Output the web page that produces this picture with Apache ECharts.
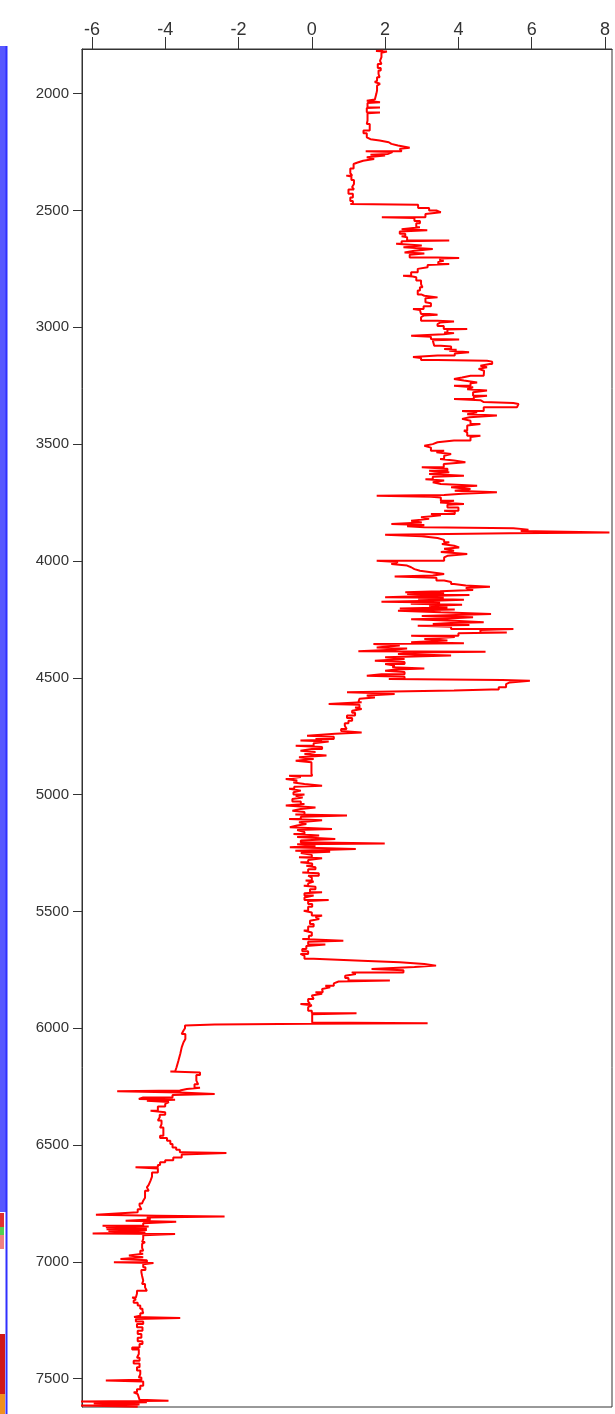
<!DOCTYPE html>
<html><head><meta charset="utf-8">
<script src="https://cdn.jsdelivr.net/npm/echarts@6/dist/echarts.min.js"></script>
<style>html,body{margin:0;padding:0;background:#fff;}#chart{width:615px;height:1414px;}</style>
</head><body><div id="chart"></div>
<script>
// tick labels
const valueTicks = [-6, -4, -2, 0, 2, 4, 6, 8];
const depthTicks = [2000, 2500, 3000, 3500, 4000, 4500, 5000, 5500, 6000, 6500, 7000, 7500];
// log readings: [depth, value]
const zoneA = [[1816,1.95],[1818,1.75],[1820,2.05],[1825,1.9],[1844,1.86],[1860,1.9],[1873,1.8],[1890,1.88],[1901,1.82],[1916,1.85],[1930,1.78],[1944,1.8],[1950,1.72],[1958,1.86],[1966,1.78],[1987,1.76],[2001,1.72],[2025,1.74],[2030,1.5],[2037,1.86],[2040,1.52],[2058,1.5],[2059,1.86],[2062,1.5],[2080,1.52],[2081,1.86],[2084,1.52],[2115,1.5],[2130,1.58],[2158,1.41],[2170,1.5],[2187,1.48],[2195,1.6],[2201,1.85],[2208,2.1],[2215,2.17],[2222,2.35],[2227,2.53],[2232,2.67],[2236,2.4],[2240,2.45],[2247,1.47],[2250,2.2],[2258,2.08],[2262,1.6],[2265,2.0],[2272,1.5],[2280,1.7],[2287,1.4],[2295,1.25],[2301,1.14],[2320,1.05],[2340,1.1],[2351,0.94],[2355,1.08],[2370,1.15],[2387,1.1],[2400,1.15],[2410,1.0],[2429,1.12],[2445,1.05],[2460,1.12],[2472,1.05],[2476,2.9],[2479,2.9],[2490,3.2],[2500,3.4],[2508,3.52],[2515,3.1],[2529,1.91],[2532,2.8],[2545,2.95],[2555,2.85],[2572,2.95],[2580,2.45],[2585,3.15],[2590,2.4],[2600,2.55],[2610,2.45],[2615,2.6],[2629,3.75],[2632,2.45],[2643,2.3],[2650,3.0],[2658,2.5],[2665,3.3],[2672,2.8]];
const zoneB = [[2680,2.53],[2684,3.07],[2690,2.67],[2701,3.43],[2703,4.02],[2706,3.5],[2715,3.6],[2720,3.45],[2729,3.75],[2733,3.16],[2743,3.12],[2750,2.89],[2765,2.71],[2779,2.49],[2783,2.75],[2786,2.85],[2800,2.98],[2815,3.02],[2829,2.95],[2843,2.89],[2860,3.0],[2865,3.07],[2872,3.43],[2876,3.1],[2893,3.15],[2897,3.25],[2910,3.05],[2922,2.76],[2926,2.95],[2929,2.98],[2943,3.2],[2946,3.43],[2950,3.05],[2957,2.98],[2972,3.43],[2975,3.88],[2980,3.5],[2986,3.43],[2995,3.6],[3007,4.24],[3010,3.7],[3022,3.61],[3025,3.88],[3030,3.6],[3036,2.71],[3040,3.25],[3050,3.25],[3052,4.02],[3056,3.3],[3064,3.34],[3079,3.52],[3082,3.8],[3093,3.61],[3096,3.95],[3100,3.75],[3107,4.29],[3112,3.9],[3121,3.43],[3127,2.76],[3131,2.98],[3140,3.43],[3143,4.78],[3147,4.92],[3157,4.85],[3165,4.6],[3171,4.78],[3178,4.55],[3186,4.7],[3193,4.69],[3207,4.33],[3215,4.1],[3221,3.88],[3228,4.15],[3236,4.51],[3240,4.33],[3250,3.88],[3257,4.4],[3265,4.24],[3271,4.78],[3278,4.4],[3293,4.78],[3298,4.42],[3307,3.88],[3312,4.6],[3320,4.69],[3324,5.5],[3328,5.64],[3335,5.6],[3342,4.69],[3350,4.69],[3358,4.1],[3364,4.51],[3372,4.24],[3378,5.05],[3385,4.3],[3392,4.1],[3400,4.33],[3414,4.6],[3420,4.24],[3442,4.15],[3450,4.24],[3464,4.6],[3470,4.33],[3485,3.88],[3492,3.43],[3500,3.3],[3507,3.07],[3515,3.25],[3528,3.61],[3535,3.4],[3542,3.8],[3550,3.61],[3564,3.5],[3570,3.88],[3578,4.19],[3585,3.6],[3599,3.0],[3605,3.7],[3614,3.2]];
const zoneC = [[3620,3.75],[3628,3.2],[3635,4.15],[3640,3.3],[3650,3.1],[3656,3.61],[3663,3.3],[3671,3.52],[3678,4.51],[3685,3.8],[3692,4.33],[3700,3.9],[3706,5.05],[3712,4.1],[3718,3.61],[3721,1.77],[3725,3.25],[3728,3.52],[3742,3.88],[3750,3.5],[3756,4.15],[3760,3.7],[3771,4.0],[3785,3.61],[3790,3.9],[3799,3.25],[3805,3.52],[3813,2.98],[3820,3.2],[3828,2.71],[3835,3.0],[3842,2.17],[3846,3.07],[3852,2.6],[3856,3.07],[3860,5.5],[3866,5.91],[3872,5.7],[3878,8.12],[3882,5.4],[3888,2.0],[3894,3.0],[3902,3.43],[3910,3.61],[3920,3.75],[3928,3.55],[3935,3.88],[3942,4.02],[3948,3.61],[3956,3.88],[3962,3.52],[3970,4.24],[3978,3.7],[3985,3.61],[3999,1.77],[4005,2.35],[4013,2.17],[4020,2.6],[4027,2.71],[4035,2.8],[4042,2.95],[4048,3.25],[4056,3.61],[4062,3.3],[4067,2.26],[4072,3.4],[4084,3.61],[4090,3.8],[4099,3.88],[4105,4.2],[4110,4.86],[4116,4.2],[4124,4.4],[4130,3.5],[4134,2.55],[4138,3.61],[4142,2.6],[4146,4.3],[4150,3.1],[4155,2.0],[4158,3.6],[4162,2.9],[4166,4.15],[4170,3.3],[4175,1.9],[4178,3.5],[4183,2.7],[4188,4.1],[4192,3.2],[4199,3.7],[4204,2.4],[4208,3.9],[4213,2.35],[4220,3.52],[4227,4.89],[4232,3.7],[4236,3.0],[4241,4.4],[4246,3.7],[4250,2.71],[4256,3.9],[4262,4.69],[4266,3.8],[4270,3.3],[4274,4.3],[4277,2.89],[4282,3.8],[4291,5.5],[4296,4.6],[4306,5.32],[4310,4.0],[4320,2.71],[4326,3.9],[4334,3.07],[4340,3.7],[4348,2.71],[4352,4.15],[4356,1.68],[4362,2.4],[4370,1.77],[4375,2.6],[4380,2.2],[4387,1.27],[4389,4.74],[4392,2.8],[4398,2.35],[4405,3.8],[4412,2.0],[4420,2.53]];
const zoneD = [[4427,1.72],[4432,2.53],[4441,2.0],[4448,2.26],[4455,2.2],[4460,3.07],[4465,2.3],[4470,2.0],[4475,2.53],[4485,1.9],[4491,1.5],[4496,2.53],[4505,2.1],[4510,5.2],[4513,5.95],[4520,5.4],[4527,5.3],[4541,5.1],[4550,4.9],[4555,3.88],[4562,0.96],[4566,1.9],[4569,2.26],[4576,1.5],[4584,1.72],[4590,1.3],[4598,1.27],[4605,1.36],[4612,0.46],[4616,1.3],[4627,1.18],[4634,1.36],[4641,1.1],[4650,1.18],[4662,0.96],[4672,1.1],[4684,1.0],[4695,0.9],[4705,0.85],[4712,0.95],[4719,0.8],[4728,0.75],[4734,1.36],[4740,0.64],[4748,-0.13],[4752,0.6],[4762,0.1],[4766,0.28],[4769,-0.31],[4773,0.46],[4780,0.05],[4791,-0.44],[4796,0.28],[4805,0.0],[4812,-0.31],[4818,0.1],[4826,-0.2],[4833,0.4],[4840,-0.35],[4848,0.05],[4855,-0.44],[4862,-0.01],[4910,-0.01],[4915,0.01],[4919,-0.62],[4925,-0.3],[4933,-0.71],[4940,-0.4],[4948,-0.5],[4955,-0.2],[4962,0.28],[4966,-0.48],[4975,-0.62],[4983,-0.3],[4990,-0.5],[5000,-0.2],[5005,-0.44],[5012,-0.25],[5019,-0.53],[5030,-0.3],[5040,-0.2],[5047,-0.71],[5055,0.1],[5062,-0.3],[5069,-0.53],[5075,-0.2],[5085,-0.45],[5090,0.96],[5095,-0.3],[5104,-0.62],[5110,0.28],[5118,-0.35],[5126,-0.15],[5132,-0.4],[5140,-0.6],[5147,0.55],[5152,-0.4],[5160,-0.2],[5169,-0.5],[5175,0.2],[5182,-0.4],[5190,0.64],[5196,-0.3],[5205,0.2],[5209,1.99],[5213,-0.4],[5220,0.1],[5225,-0.6],[5233,1.2]];
const zoneE = [[5240,-0.45],[5245,0.5],[5250,-0.3],[5258,0.0],[5268,-0.35],[5272,0.28],[5280,-0.1],[5290,-0.31],[5295,0.01],[5305,-0.15],[5311,0.1],[5320,-0.1],[5333,-0.26],[5337,0.19],[5347,-0.1],[5355,0.0],[5368,-0.17],[5372,0.05],[5380,-0.1],[5390,-0.22],[5394,0.1],[5405,-0.05],[5418,0.28],[5422,-0.2],[5432,0.05],[5440,-0.2],[5451,0.46],[5455,-0.1],[5468,0.01],[5480,-0.1],[5497,-0.22],[5505,0.0],[5518,0.28],[5525,0.1],[5532,0.2],[5540,-0.05],[5554,0.05],[5565,-0.1],[5582,-0.22],[5590,0.0],[5604,-0.08],[5618,-0.26],[5625,0.86],[5630,-0.1],[5642,0.37],[5648,-0.15],[5661,-0.26],[5670,-0.1],[5682,-0.31],[5690,-0.2],[5703,0.05],[5711,1.36],[5718,2.4],[5725,3.07],[5732,3.39],[5738,2.8],[5746,1.63],[5752,2.5],[5761,1.09],[5768,1.2],[5775,0.91],[5785,1.0],[5796,2.13],[5800,0.73],[5808,0.6],[5818,0.37],[5825,0.5],[5832,0.28],[5840,0.3],[5846,0.1],[5852,0.28],[5860,0.0],[5868,0.05],[5875,-0.1],[5885,-0.05],[5896,-0.31],[5902,0.0],[5910,-0.1],[5925,0.0],[5936,1.22],[5940,0.01],[5953,0.01],[5975,0.01],[5979,3.16],[5981,0.0],[5984,-2.65],[5988,-3.46]];
const zoneF = [[6000,-3.5],[6010,-3.55],[6025,-3.45],[6046,-3.5],[6060,-3.55],[6082,-3.59],[6110,-3.64],[6139,-3.69],[6167,-3.73],[6185,-3.86],[6189,-3.05],[6200,-3.15],[6224,-3.1],[6240,-3.2],[6255,-3.05],[6260,-3.41],[6266,-3.6],[6270,-5.31],[6275,-3.6],[6281,-2.65],[6286,-3.8],[6296,-4.6],[6303,-4.72],[6306,-3.73],[6310,-4.5],[6316,-3.9],[6324,-4.0],[6335,-4.2],[6353,-4.4],[6360,-4.0],[6370,-4.15],[6381,-4.2],[6395,-4.1],[6410,-4.14],[6425,-4.05],[6438,-4.05],[6460,-4.14],[6470,-3.95],[6481,-3.86],[6495,-3.8],[6510,-3.7],[6520,-3.6],[6531,-3.5],[6534,-2.33],[6540,-3.55],[6553,-3.78],[6565,-4.0],[6574,-4.14],[6585,-4.2],[6595,-4.81],[6600,-4.2],[6617,-4.36],[6635,-4.4],[6652,-4.45],[6670,-4.5],[6681,-4.45],[6695,-4.55],[6710,-4.55],[6725,-4.6],[6738,-4.63],[6750,-4.7],[6759,-4.65],[6775,-4.75],[6788,-4.72]];
const zoneG = [[6795,-4.77],[6798,-5.89],[6802,-4.23],[6806,-2.38],[6810,-4.5],[6818,-4.4],[6824,-5.08],[6828,-3.7],[6835,-4.6],[6845,-5.71],[6848,-4.45],[6852,-5.62],[6856,-4.5],[6860,-5.6],[6864,-4.5],[6868,-5.55],[6874,-4.54],[6878,-5.98],[6881,-3.73],[6886,-4.6],[6902,-4.63],[6915,-4.55],[6923,-4.63],[6940,-4.6],[6952,-4.68],[6965,-4.6],[6973,-4.99],[6980,-4.6],[6988,-5.22],[6993,-4.5],[7002,-5.4],[7005,-4.32],[7010,-4.6],[7023,-4.54],[7035,-4.65],[7045,-4.63],[7060,-4.6],[7080,-4.63],[7095,-4.55],[7109,-4.6],[7115,-4.5],[7123,-4.77],[7135,-4.8],[7152,-4.9],[7160,-4.8],[7166,-4.86],[7175,-4.75],[7187,-4.68],[7200,-4.62],[7209,-4.6],[7220,-4.68],[7230,-4.72],[7236,-4.85],[7240,-3.59],[7244,-4.8],[7255,-4.6],[7266,-4.77],[7280,-4.62],[7295,-4.75],[7309,-4.65],[7325,-4.75],[7340,-4.62],[7351,-4.7],[7366,-4.9],[7375,-4.72],[7394,-4.77],[7410,-4.7],[7423,-4.86],[7435,-4.7],[7451,-4.77],[7465,-4.68],[7480,-4.72],[7495,-4.65],[7504,-4.68],[7508,-5.62],[7512,-4.6],[7530,-4.68],[7545,-4.77],[7558,-4.86],[7566,-4.75],[7573,-4.7],[7590,-4.72],[7594,-3.91],[7597,-6.3],[7601,-4.5],[7605,-5.95],[7610,-4.7],[7615,-6.3],[7620,-4.75]];

const logData = [].concat(zoneA, zoneB, zoneC, zoneD, zoneE, zoneF, zoneG).map(p => [p[1], p[0]]);
const FONT = "'Liberation Sans', Arial, sans-serif";

const chart = echarts.init(document.getElementById('chart'), null, {renderer: 'canvas'});
chart.setOption({
  animation: false,
  backgroundColor: '#ffffff',
  grid: {left: 82, top: 49, right: 3, bottom: 7, show: true, borderColor: '#333', borderWidth: 1, backgroundColor: 'transparent'},
  graphic: [
    {type: 'rect', shape: {x: 0, y: 46, width: 6, height: 1166}, style: {fill: '#5858ff'}, z: 10},
    {type: 'rect', shape: {x: 0, y: 1213, width: 4, height: 14}, style: {fill: '#e03030'}, z: 10},
    {type: 'rect', shape: {x: 0, y: 1227, width: 4, height: 8}, style: {fill: '#50d050'}, z: 10},
    {type: 'rect', shape: {x: 0, y: 1235, width: 4, height: 14}, style: {fill: '#f08080'}, z: 10},
    {type: 'rect', shape: {x: 0, y: 1334, width: 5, height: 60}, style: {fill: '#d01818'}, z: 10},
    {type: 'rect', shape: {x: 0, y: 1394, width: 5, height: 20}, style: {fill: '#f09020'}, z: 10},
    {type: 'line', shape: {x1: 6.5, y1: 46, x2: 6.5, y2: 1414}, style: {stroke: '#3030ff', lineWidth: 2}, z: 11}
  ],
  xAxis: {
    type: 'value', position: 'top', min: -6.27, max: 8.19,
    axisLine: {show: true, onZero: false, lineStyle: {color: '#333', width: 1}},
    axisTick: {show: true, customValues: valueTicks, length: 12, lineStyle: {color: '#333', width: 1}},
    axisLabel: {customValues: valueTicks, margin: 10, fontFamily: FONT, fontSize: 18, color: '#333'},
    splitLine: {show: false}
  },
  yAxis: {
    type: 'value', inverse: true, min: 1809, max: 7621,
    axisLine: {show: true, onZero: false, lineStyle: {color: '#333', width: 1}},
    axisTick: {show: true, customValues: depthTicks, length: 9, lineStyle: {color: '#333', width: 1}},
    axisLabel: {customValues: depthTicks, margin: 13, fontFamily: FONT, fontSize: 15, color: '#333', formatter: v => String(v)},
    splitLine: {show: false}
  },
  series: [{
    type: 'line', data: logData, symbol: 'none', showSymbol: false, step: 'start',
    lineStyle: {color: '#ff0000', width: 2}, silent: true, clip: true
  }]
});
</script></body></html>
